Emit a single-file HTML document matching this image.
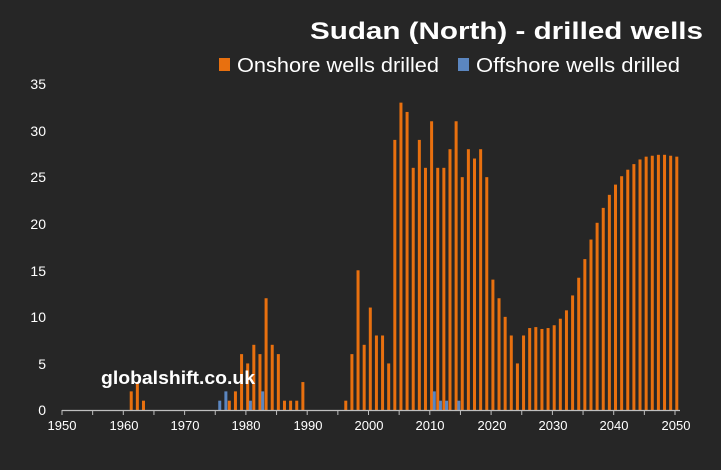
<!DOCTYPE html>
<html><head><meta charset="utf-8"><style>
html,body{margin:0;padding:0;background:#262626}
svg{display:block;font-family:"Liberation Sans",sans-serif}
</style></head><body>
<svg id="c" width="721" height="470" viewBox="0 0 721 470" xmlns="http://www.w3.org/2000/svg">
<rect width="721" height="470" fill="#262626"/>
<text x="310" y="39" font-size="24" font-weight="bold" fill="#ffffff" textLength="393" lengthAdjust="spacingAndGlyphs">Sudan (North) - drilled wells</text>
<rect x="219" y="58" width="11" height="13" fill="#e8700f"/>
<text x="237" y="72" font-size="20" fill="#ffffff" textLength="202" lengthAdjust="spacingAndGlyphs">Onshore wells drilled</text>
<rect x="458" y="58" width="11" height="13" fill="#5b86c0"/>
<text x="476" y="72" font-size="20" fill="#ffffff" textLength="204" lengthAdjust="spacingAndGlyphs">Offshore wells drilled</text>
<g font-size="14" fill="#ffffff" text-anchor="end">
<text x="46" y="415">0</text><text x="46" y="369">5</text><text x="46" y="322">10</text>
<text x="46" y="276">15</text><text x="46" y="229">20</text><text x="46" y="182">25</text>
<text x="46" y="136">30</text><text x="46" y="89">35</text>
</g>
<g font-size="13" fill="#ffffff" text-anchor="middle">
<text x="62" y="430">1950</text><text x="124" y="430">1960</text><text x="185" y="430">1970</text>
<text x="246" y="430">1980</text><text x="308" y="430">1990</text><text x="369" y="430">2000</text>
<text x="430" y="430">2010</text><text x="492" y="430">2020</text><text x="553" y="430">2030</text>
<text x="614" y="430">2040</text><text x="676" y="430">2050</text>
</g>
<g id="bars"></g>
<line x1="62" y1="410.5" x2="680" y2="410.5" stroke="#bfbfbf" stroke-width="1.2"/>
<g id="ticks" stroke="#bfbfbf" stroke-width="1"></g>
<text x="101" y="384" font-size="18" font-weight="bold" fill="#ffffff" textLength="154" lengthAdjust="spacingAndGlyphs">globalshift.co.uk</text>
</svg>
<script>
var on={1961:2,1962:3,1963:1,1977:1,1978:2,1979:6,1980:5,1981:7,1982:6,1983:12,1984:7,1985:6,1986:1,1987:1,1988:1,1989:3,
1996:1,1997:6,1998:15,1999:7,2000:11,2001:8,2002:8,2003:5,2004:29,2005:33,2006:32,2007:26,2008:29,2009:26,2010:31,2011:26,2012:26,2013:28,2014:31,2015:25,2016:28,2017:27,2018:28,2019:25,2020:14,2021:12,2022:10,2023:8,2024:5,2025:8,2026:8.8,2027:8.9,2028:8.7,2029:8.8,2030:9.1,2031:9.8,2032:10.7,2033:12.3,2034:14.2,2035:16.2,2036:18.3,2037:20.1,2038:21.7,2039:23.1,2040:24.2,2041:25.1,2042:25.8,2043:26.4,2044:26.9,2045:27.2,2046:27.3,2047:27.4,2048:27.4,2049:27.3,2050:27.2};
var off={1975:1,1976:2,1980:1,1982:2,2010:2,2011:1,2012:1,2014:1};
var ns="http://www.w3.org/2000/svg",g=document.getElementById("bars"),t=document.getElementById("ticks");
function X(y){return 62+(y-1950)*6.13;}
function r(x,v,c){var e=document.createElementNS(ns,"rect");var h=v*9.314;e.setAttribute("x",x);e.setAttribute("y",410-h);e.setAttribute("width",3);e.setAttribute("height",h);e.setAttribute("fill",c);g.appendChild(e);}
for(var k in on)r(X(+k)+0.3,on[k],"#e8700f");
for(var k in off)r(X(+k)+3,off[k],"#5b86c0");
for(var y=1950;y<=2050;y+=5){var l=document.createElementNS(ns,"line");var x=X(y);l.setAttribute("x1",x);l.setAttribute("x2",x);l.setAttribute("y1",410);l.setAttribute("y2",415);t.appendChild(l);}
</script>
</body></html>
